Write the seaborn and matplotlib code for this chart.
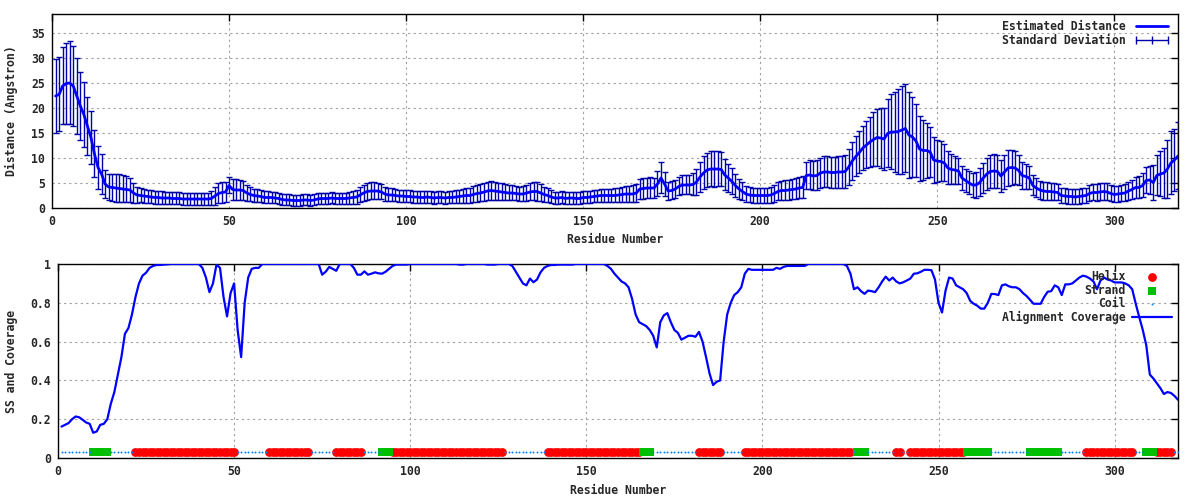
import matplotlib
matplotlib.use("Agg")
import matplotlib.pyplot as plt
from matplotlib.lines import Line2D
import seaborn as sns
import pandas as pd
import numpy as np

# per-residue values (residues 1..318)
distance = [
    22.4, 22.7, 24.4, 24.9, 25.0, 24.4, 22.4, 20.4, 18.7, 16.4,
    14.1, 10.8, 8.1, 6.8, 4.8, 4.2, 4.1, 4.0, 3.9, 3.8,
    3.7, 3.6, 3.0, 2.6, 2.5, 2.4, 2.3, 2.2, 2.1, 2.1,
    2.0, 2.0, 2.0, 1.9, 1.9, 1.9, 1.8, 1.8, 1.8, 1.8,
    1.8, 1.8, 1.8, 1.8, 1.9, 2.4, 2.9, 3.1, 3.2, 4.5,
    3.7, 3.6, 3.6, 3.5, 3.0, 2.7, 2.5, 2.4, 2.3, 2.1,
    2.1, 2.1, 2.0, 1.9, 1.7, 1.6, 1.6, 1.5, 1.5, 1.5,
    1.6, 1.6, 1.5, 1.6, 1.8, 1.9, 1.9, 1.9, 2.0, 1.9,
    1.9, 1.9, 1.9, 2.0, 2.1, 2.2, 2.6, 3.0, 3.3, 3.4,
    3.4, 3.4, 3.2, 2.8, 2.6, 2.6, 2.5, 2.4, 2.4, 2.3,
    2.3, 2.2, 2.2, 2.1, 2.1, 2.2, 2.1, 2.0, 2.1, 2.1,
    2.0, 2.1, 2.1, 2.2, 2.3, 2.4, 2.5, 2.5, 2.7, 2.9,
    3.0, 3.2, 3.4, 3.5, 3.4, 3.3, 3.2, 3.1, 3.0, 3.0,
    2.9, 2.8, 2.8, 3.0, 3.2, 3.3, 3.3, 3.0, 2.7, 2.5,
    2.2, 2.0, 2.0, 2.1, 1.9, 2.0, 2.0, 1.9, 1.9, 2.1,
    2.1, 2.2, 2.3, 2.4, 2.5, 2.5, 2.5, 2.5, 2.5, 2.6,
    2.7, 2.8, 2.8, 2.8, 3.0, 3.8, 3.9, 4.0, 4.0, 4.0,
    4.8, 6.0, 4.8, 3.4, 3.5, 3.8, 4.3, 4.6, 4.6, 4.6,
    4.7, 5.2, 6.2, 7.0, 7.6, 7.8, 7.8, 7.8, 7.7, 6.6,
    6.0, 5.3, 4.5, 3.8, 3.3, 2.8, 2.6, 2.5, 2.5, 2.5,
    2.5, 2.5, 2.6, 2.9, 3.3, 3.5, 3.5, 3.6, 3.7, 3.8,
    4.0, 4.1, 6.5, 6.6, 6.4, 6.5, 7.0, 7.2, 7.2, 7.1,
    7.1, 7.2, 7.2, 7.3, 8.2, 9.4, 10.3, 11.1, 12.0, 12.6,
    13.2, 13.7, 14.1, 14.0, 13.8, 14.9, 15.2, 15.2, 15.3, 15.6,
    15.9, 14.6, 14.2, 13.4, 11.8, 11.5, 11.5, 11.2, 9.6, 9.4,
    9.3, 9.0, 8.0, 7.7, 7.6, 7.4, 6.0, 5.5, 5.0, 4.6,
    4.6, 5.1, 6.0, 6.8, 7.3, 7.4, 7.3, 6.4, 7.2, 8.0,
    8.1, 8.0, 7.5, 6.5, 6.3, 6.0, 4.5, 4.0, 3.6, 3.4,
    3.3, 3.3, 3.2, 3.1, 2.5, 2.4, 2.3, 2.3, 2.2, 2.3,
    2.4, 2.5, 2.9, 3.1, 3.1, 3.2, 3.3, 3.2, 2.9, 2.7,
    2.8, 2.9, 3.0, 3.4, 3.7, 4.1, 4.1, 4.5, 5.5, 5.6,
    5.1, 6.5, 6.8, 7.0, 7.8, 9.0, 9.6, 10.4,
]

std_dev = [
    7.4, 7.4, 7.7, 8.1, 8.3, 8.0, 7.6, 6.8, 6.5, 5.8,
    5.3, 4.7, 4.3, 4.0, 2.8, 2.6, 2.7, 2.8, 2.8, 2.7,
    2.6, 2.4, 2.0, 1.6, 1.4, 1.4, 1.3, 1.3, 1.3, 1.3,
    1.3, 1.2, 1.2, 1.2, 1.2, 1.2, 1.2, 1.2, 1.2, 1.2,
    1.2, 1.2, 1.2, 1.2, 1.4, 1.8, 2.0, 2.1, 2.0, 1.6,
    2.1, 2.1, 2.0, 1.9, 1.6, 1.4, 1.3, 1.3, 1.2, 1.2,
    1.2, 1.1, 1.1, 1.1, 1.1, 1.1, 1.1, 1.1, 1.1, 1.1,
    1.1, 1.1, 1.1, 1.1, 1.1, 1.1, 1.1, 1.1, 1.1, 1.1,
    1.1, 1.1, 1.1, 1.2, 1.3, 1.4, 1.5, 1.6, 1.7, 1.7,
    1.7, 1.6, 1.5, 1.4, 1.3, 1.3, 1.2, 1.2, 1.2, 1.2,
    1.2, 1.2, 1.2, 1.2, 1.2, 1.2, 1.2, 1.2, 1.2, 1.2,
    1.2, 1.2, 1.2, 1.3, 1.3, 1.4, 1.5, 1.5, 1.6, 1.7,
    1.7, 1.8, 1.8, 1.9, 1.8, 1.7, 1.7, 1.6, 1.5, 1.5,
    1.4, 1.4, 1.5, 1.6, 1.7, 1.8, 1.9, 1.7, 1.5, 1.4,
    1.3, 1.2, 1.2, 1.2, 1.2, 1.2, 1.2, 1.2, 1.2, 1.2,
    1.2, 1.2, 1.2, 1.2, 1.3, 1.3, 1.3, 1.3, 1.4, 1.4,
    1.5, 1.6, 1.6, 1.7, 1.8, 2.0, 2.1, 2.0, 2.1, 2.0,
    2.5, 3.1, 2.4, 1.8, 1.8, 1.8, 1.8, 1.9, 1.9, 1.9,
    2.2, 2.6, 3.0, 3.3, 3.4, 3.5, 3.6, 3.5, 3.4, 3.1,
    2.8, 2.6, 2.3, 2.0, 1.8, 1.6, 1.5, 1.5, 1.5, 1.5,
    1.5, 1.5, 1.6, 1.7, 1.8, 1.9, 2.0, 2.0, 2.0, 2.1,
    2.1, 2.2, 2.7, 2.9, 2.9, 3.0, 3.0, 3.1, 3.1, 3.1,
    3.1, 3.2, 3.2, 3.3, 3.6, 3.8, 4.0, 4.2, 4.4, 4.7,
    5.0, 5.4, 5.7, 6.0, 6.2, 6.8, 7.5, 8.0, 8.5, 8.8,
    8.8, 8.6, 8.0, 7.3, 6.5, 6.0, 5.5, 5.0, 4.6, 4.2,
    4.0, 3.7, 3.3, 3.0, 2.8, 2.6, 2.4, 2.3, 2.3, 2.4,
    2.6, 2.8, 3.0, 3.2, 3.3, 3.4, 3.3, 3.2, 3.4, 3.6,
    3.5, 3.3, 3.0, 2.7, 2.5, 2.3, 2.0, 1.9, 1.8, 1.8,
    1.8, 1.7, 1.7, 1.6, 1.5, 1.5, 1.5, 1.5, 1.5, 1.5,
    1.5, 1.5, 1.6, 1.6, 1.7, 1.7, 1.7, 1.7, 1.6, 1.6,
    1.6, 1.6, 1.7, 1.8, 1.9, 2.1, 2.2, 2.4, 2.6, 2.8,
    3.5, 4.0, 4.5, 5.0, 5.8, 6.3, 6.2, 6.7,
]

coverage = [
    0.162, 0.171, 0.18, 0.2, 0.214, 0.21, 0.197, 0.183, 0.176, 0.13,
    0.137, 0.171, 0.176, 0.2, 0.28, 0.34, 0.43, 0.52, 0.64, 0.67,
    0.74, 0.83, 0.9, 0.94, 0.955, 0.98, 0.99, 0.995, 0.995, 0.997,
    0.998, 1.0, 1.0, 1.0, 1.0, 1.0, 1.0, 1.0, 1.0, 1.0,
    0.98, 0.93, 0.855, 0.9, 0.997, 0.98, 0.83, 0.73, 0.85, 0.9,
    0.66, 0.52, 0.8, 0.93, 0.975, 0.98, 0.98, 1.0, 1.0, 1.0,
    1.0, 1.0, 1.0, 1.0, 1.0, 1.0, 1.0, 1.0, 1.0, 1.0,
    1.0, 1.0, 1.0, 1.0, 0.945, 0.96, 0.985, 0.975, 0.965, 1.0,
    1.0, 1.0, 1.0, 0.98, 0.945, 0.945, 0.962, 0.945, 0.95, 0.957,
    0.952, 0.95, 0.96, 0.975, 0.99, 0.997, 0.997, 0.997, 0.997, 1.0,
    1.0, 1.0, 1.0, 1.0, 1.0, 1.0, 1.0, 1.0, 1.0, 1.0,
    1.0, 1.0, 1.0, 0.997, 0.997, 1.0, 1.0, 1.0, 1.0, 1.0,
    1.0, 0.997, 0.997, 0.997, 1.0, 1.0, 1.0, 1.0, 0.99, 0.96,
    0.93, 0.9, 0.89, 0.925, 0.906, 0.92, 0.957, 0.98, 0.99, 0.995,
    0.995, 0.997, 0.997, 0.997, 0.997, 0.997, 1.0, 1.0, 1.0, 1.0,
    1.0, 1.0, 1.0, 1.0, 1.0, 0.99, 0.975, 0.95, 0.93, 0.91,
    0.9, 0.88, 0.82, 0.74, 0.7, 0.69, 0.68, 0.66, 0.63, 0.57,
    0.7, 0.735, 0.747, 0.7, 0.66, 0.645, 0.61, 0.62, 0.63, 0.63,
    0.625, 0.65, 0.6, 0.52, 0.435, 0.376, 0.393, 0.4, 0.6, 0.74,
    0.8, 0.84, 0.855, 0.88, 0.95, 0.975, 0.97, 0.97, 0.97, 0.97,
    0.97, 0.97, 0.97, 0.98, 0.975, 0.985, 0.99, 0.99, 0.99, 0.99,
    0.99, 0.99, 1.0, 1.0, 1.0, 1.0, 1.0, 1.0, 1.0, 1.0,
    1.0, 1.0, 1.0, 0.99, 0.95, 0.87, 0.88, 0.86, 0.846, 0.863,
    0.86, 0.855, 0.88, 0.91, 0.935, 0.915, 0.93, 0.91, 0.9, 0.906,
    0.915, 0.925, 0.95, 0.952, 0.96, 0.97, 0.97, 0.968, 0.92, 0.8,
    0.75, 0.863, 0.93, 0.925, 0.89, 0.88, 0.87, 0.85, 0.81, 0.795,
    0.785, 0.77, 0.77, 0.8, 0.846, 0.845, 0.84, 0.89, 0.895, 0.885,
    0.88, 0.88, 0.87, 0.85, 0.835, 0.815, 0.795, 0.795, 0.795, 0.83,
    0.857, 0.86, 0.89, 0.88, 0.84, 0.895, 0.895, 0.9, 0.915, 0.93,
    0.94, 0.935, 0.925, 0.91, 0.87, 0.915, 0.93, 0.92, 0.915, 0.905,
    0.905, 0.905, 0.9, 0.89, 0.87, 0.795, 0.726, 0.66, 0.58, 0.43,
    0.41, 0.385, 0.36, 0.33, 0.34, 0.335, 0.32, 0.3,
]

# secondary structure segments (first, last residue)
helix_ranges = [(22, 50), (60, 71), (79, 86), (95, 126), (139, 165), (182, 188),
                (195, 225), (238, 239), (242, 257), (292, 305), (312, 316)]
strand_ranges = [(10, 14), (92, 94), (166, 168), (227, 229), (258, 264),
                 (276, 284), (309, 311)]

residue = np.arange(1, len(distance) + 1)

ss = np.array(["C"] * len(residue))
for a, b in helix_ranges:
    ss[(residue >= a) & (residue <= b)] = "H"
for a, b in strand_ranges:
    ss[(residue >= a) & (residue <= b)] = "E"

ss_level = 0.03
df = pd.DataFrame({"residue": residue, "distance": distance, "std": std_dev,
                   "coverage": coverage, "ss": ss})
df["ss_y"] = ss_level

sns.set_theme(style="white")
plt.rcParams["font.family"] = ["DejaVu Sans Mono"]
plt.rcParams["font.weight"] = "bold"
plt.rcParams["font.size"] = 8
fs = 8.3

fig = plt.figure(figsize=(12, 5), dpi=100)
ax1 = fig.add_axes([52 / 1200, 1 - 208 / 500, 1126 / 1200, 194 / 500])
ax2 = fig.add_axes([58 / 1200, 1 - 458 / 500, 1120 / 1200, 194 / 500])

line_blue = "#0000ff"
bar_blue = "#0000a8"

# top panel: distance with error bars
ax1.errorbar(df["residue"], df["distance"], yerr=df["std"], fmt="none",
             ecolor=bar_blue, elinewidth=1, capsize=2.2, capthick=1, zorder=2)
sns.lineplot(data=df, x="residue", y="distance", ax=ax1, color=line_blue,
             lw=2, estimator=None, sort=False, zorder=3)
ax1.set_xlim(0, 318)
ax1.set_ylim(0, 38.8)
ax1.set_yticks(range(0, 40, 5))
ax1.set_xlabel("Residue Number", fontweight="bold", fontsize=fs, labelpad=4)
ax1.set_ylabel("Distance (Angstron)", fontweight="bold", fontsize=fs)
ax1.yaxis.set_label_coords(-0.030, 0.5)
handles1 = [Line2D([], [], color=line_blue, lw=2),
            Line2D([], [], color=bar_blue, lw=1, marker="|", markersize=6, markeredgewidth=1)]
ax1.legend(handles1, ["Estimated Distance", "Standard Deviation"], loc="upper right",
           frameon=False, markerfirst=False, numpoints=3, handlelength=3.4,
           handletextpad=0.6, labelspacing=0.02, borderaxespad=0.15, fontsize=fs)

# bottom panel: secondary structure + alignment coverage
h = df[df["ss"] == "H"]
e = df[df["ss"] == "E"]
c = df[df["ss"] == "C"]
sns.scatterplot(data=h, x="residue", y="ss_y", ax=ax2, color="#ff0000", marker="o",
                s=40, linewidth=0, label="Helix", zorder=3)
sns.scatterplot(data=e, x="residue", y="ss_y", ax=ax2, color="#00c000", marker="s",
                s=36, linewidth=0, label="Strand", zorder=3)
sns.scatterplot(data=c, x="residue", y="ss_y", ax=ax2, color="#0080ff", marker="o",
                s=2, linewidth=0, label="Coil", zorder=3)
sns.lineplot(data=df, x="residue", y="coverage", ax=ax2, color=line_blue, lw=1.6,
             estimator=None, sort=False, label="Alignment Coverage", zorder=4)
ax2.set_xlim(0, 318)
ax2.set_ylim(0, 1)
ax2.set_yticks([0, 0.2, 0.4, 0.6, 0.8, 1.0])
ax2.set_yticklabels(["0", "0.2", "0.4", "0.6", "0.8", "1"])
ax2.set_xlabel("Residue Number", fontweight="bold", fontsize=fs, labelpad=4)
ax2.set_ylabel("SS and Coverage", fontweight="bold", fontsize=fs)
ax2.yaxis.set_label_coords(-0.0355, 0.5)
ax2.legend(loc="upper right", frameon=False, markerfirst=False, handlelength=3.4,
           handletextpad=0.6, labelspacing=0.04, borderaxespad=0.15, fontsize=fs)

for ax in (ax1, ax2):
    ax.set_xticks(range(0, 301, 50))
    ax.grid(True, color="#a0a0a0", linestyle=(0, (2, 3)), lw=0.8)
    ax.tick_params(direction="in", top=True, right=True, length=5, width=1,
                   color="black", labelsize=fs, pad=5)
    for sp in ax.spines.values():
        sp.set_color("black")
        sp.set_linewidth(1)
    for lab in ax.get_xticklabels() + ax.get_yticklabels():
        lab.set_fontweight("bold")

fig.savefig("out.png", dpi=100)
